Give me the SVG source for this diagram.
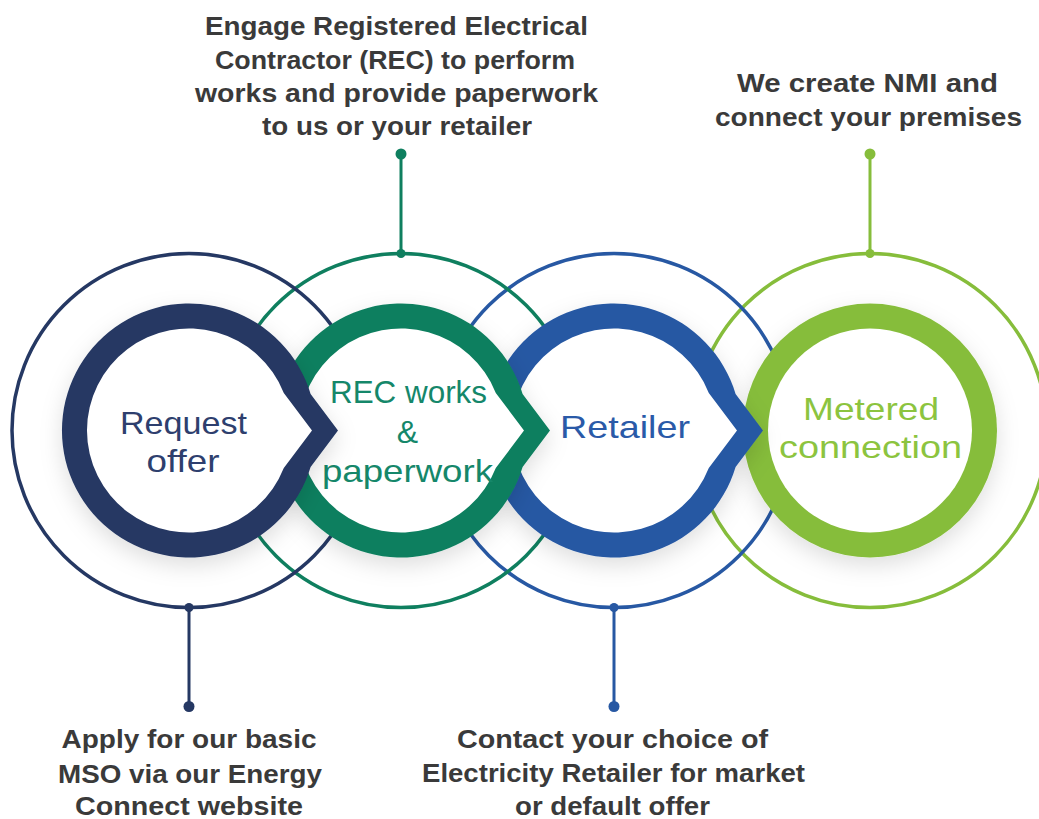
<svg xmlns="http://www.w3.org/2000/svg" width="1039" height="819" viewBox="0 0 1039 819">
<defs>
<filter id="sh" x="-30%" y="-30%" width="160%" height="170%">
<feDropShadow dx="0" dy="8" stdDeviation="11" flood-color="#000" flood-opacity="0.13"/>
</filter>
</defs>
<style>
.halo{fill:none;stroke-width:3.5}
.inner{fill:#fff}
.lbl{font-family:"Liberation Sans",Arial,sans-serif;font-size:32px;text-anchor:middle}
.cap{font-family:"Liberation Sans",Arial,sans-serif;font-size:25px;font-weight:bold;fill:#3a3a3a;text-anchor:middle}
.con{stroke-width:3;fill:none}
.navy{stroke:#253863}
.green{stroke:#0f7f5f}
.blue{stroke:#2758a3}
.lime{stroke:#86bd3b}
</style>
<rect width="1039" height="819" fill="#fff"/>

<g id="halo-rings">
<circle class="halo lime" cx="870" cy="430.5" r="177"/>
<circle class="halo blue" cx="614" cy="430.5" r="177"/>
<circle class="halo green" cx="401" cy="430.5" r="177"/>
<circle class="halo navy" cx="189" cy="430.5" r="177"/>
</g>

<g id="connectors">
<line class="con navy" x1="189" y1="607.5" x2="189" y2="706.5"/>
<circle cx="189" cy="607.5" r="4.5" fill="#253863"/>
<circle cx="189" cy="706.5" r="5.5" fill="#253863"/>
<line class="con green" x1="401" y1="154" x2="401" y2="253.5"/>
<circle cx="401" cy="253.5" r="4.5" fill="#0f7f5f"/>
<circle cx="401" cy="154" r="5.5" fill="#0f7f5f"/>
<line class="con blue" x1="614" y1="607.5" x2="614" y2="706.5"/>
<circle cx="614" cy="607.5" r="4.5" fill="#2758a3"/>
<circle cx="614" cy="706.5" r="5.5" fill="#2758a3"/>
<line class="con lime" x1="870" y1="154" x2="870" y2="253.5"/>
<circle cx="870" cy="253.5" r="4.5" fill="#86bd3b"/>
<circle cx="870" cy="154" r="5.5" fill="#86bd3b"/>
</g>

<g id="node-metered">
<circle cx="870" cy="430.5" r="127" fill="#86bd3b" filter="url(#sh)"/>
<circle class="inner" cx="870" cy="430.5" r="102"/>
<text class="lbl" fill="#8cc43f" x="871" y="420" font-size="31" textLength="136" lengthAdjust="spacingAndGlyphs">Metered</text>
<text class="lbl" fill="#8cc43f" x="870.5" y="458" font-size="31" textLength="183" lengthAdjust="spacingAndGlyphs">connection</text>
</g>

<g id="node-retailer">
<path transform="translate(614,430.5)" fill="#2758a3" filter="url(#sh)" d="M121.6,-36.5 L149,0 L121.6,36.5 A127,127 0 1 1 121.6,-36.5 Z"/>
<path transform="translate(614,430.5)" class="inner" d="M94.8,-37.6 L123,0 L94.8,37.6 A102,102 0 1 1 94.8,-37.6 Z"/>
<text class="lbl" fill="#2a5aa8" x="625" y="438" font-size="33" textLength="130" lengthAdjust="spacingAndGlyphs">Retailer</text>
</g>

<g id="node-rec">
<path transform="translate(401,430.5)" fill="#0f7f5f" filter="url(#sh)" d="M121.6,-36.5 L149,0 L121.6,36.5 A127,127 0 1 1 121.6,-36.5 Z"/>
<path transform="translate(401,430.5)" class="inner" d="M94.8,-37.6 L123,0 L94.8,37.6 A102,102 0 1 1 94.8,-37.6 Z"/>
<text class="lbl" fill="#15876a" x="408.5" y="403" font-size="30" textLength="157" lengthAdjust="spacingAndGlyphs">REC works</text>
<text class="lbl" fill="#15876a" x="407.5" y="443" font-size="30">&amp;</text>
<text class="lbl" fill="#15876a" x="407.5" y="482" font-size="30" textLength="171" lengthAdjust="spacingAndGlyphs">paperwork</text>
</g>

<g id="node-request">
<path transform="translate(189,430.5)" fill="#253863" filter="url(#sh)" d="M121.6,-36.5 L149,0 L121.6,36.5 A127,127 0 1 1 121.6,-36.5 Z"/>
<path transform="translate(189,430.5)" class="inner" d="M94.8,-37.6 L123,0 L94.8,37.6 A102,102 0 1 1 94.8,-37.6 Z"/>
<text class="lbl" fill="#2e3f6e" x="183.5" y="434" textLength="127" lengthAdjust="spacingAndGlyphs">Request</text>
<text class="lbl" fill="#2e3f6e" x="183" y="472" textLength="73" lengthAdjust="spacingAndGlyphs">offer</text>
</g>

<g id="caption-rec">
<text class="cap" x="396.5" y="35" textLength="383" lengthAdjust="spacingAndGlyphs">Engage Registered Electrical</text>
<text class="cap" x="395" y="68.5" textLength="360" lengthAdjust="spacingAndGlyphs">Contractor (REC) to perform</text>
<text class="cap" x="396.5" y="101.5" textLength="403" lengthAdjust="spacingAndGlyphs">works and provide paperwork</text>
<text class="cap" x="397" y="135" textLength="270" lengthAdjust="spacingAndGlyphs">to us or your retailer</text>
</g>

<g id="caption-metered">
<text class="cap" x="867.5" y="92" textLength="261" lengthAdjust="spacingAndGlyphs">We create NMI and</text>
<text class="cap" x="868.5" y="125.5" textLength="307" lengthAdjust="spacingAndGlyphs">connect your premises</text>
</g>

<g id="caption-request">
<text class="cap" x="189" y="748" textLength="255" lengthAdjust="spacingAndGlyphs">Apply for our basic</text>
<text class="cap" x="190" y="782.5" textLength="264" lengthAdjust="spacingAndGlyphs">MSO via our Energy</text>
<text class="cap" x="189" y="815" textLength="228" lengthAdjust="spacingAndGlyphs">Connect website</text>
</g>

<g id="caption-retailer">
<text class="cap" x="612.5" y="748" textLength="311" lengthAdjust="spacingAndGlyphs">Contact your choice of</text>
<text class="cap" x="613.5" y="782" textLength="383" lengthAdjust="spacingAndGlyphs">Electricity Retailer for market</text>
<text class="cap" x="612.5" y="815" textLength="195" lengthAdjust="spacingAndGlyphs">or default offer</text>
</g>
</svg>
